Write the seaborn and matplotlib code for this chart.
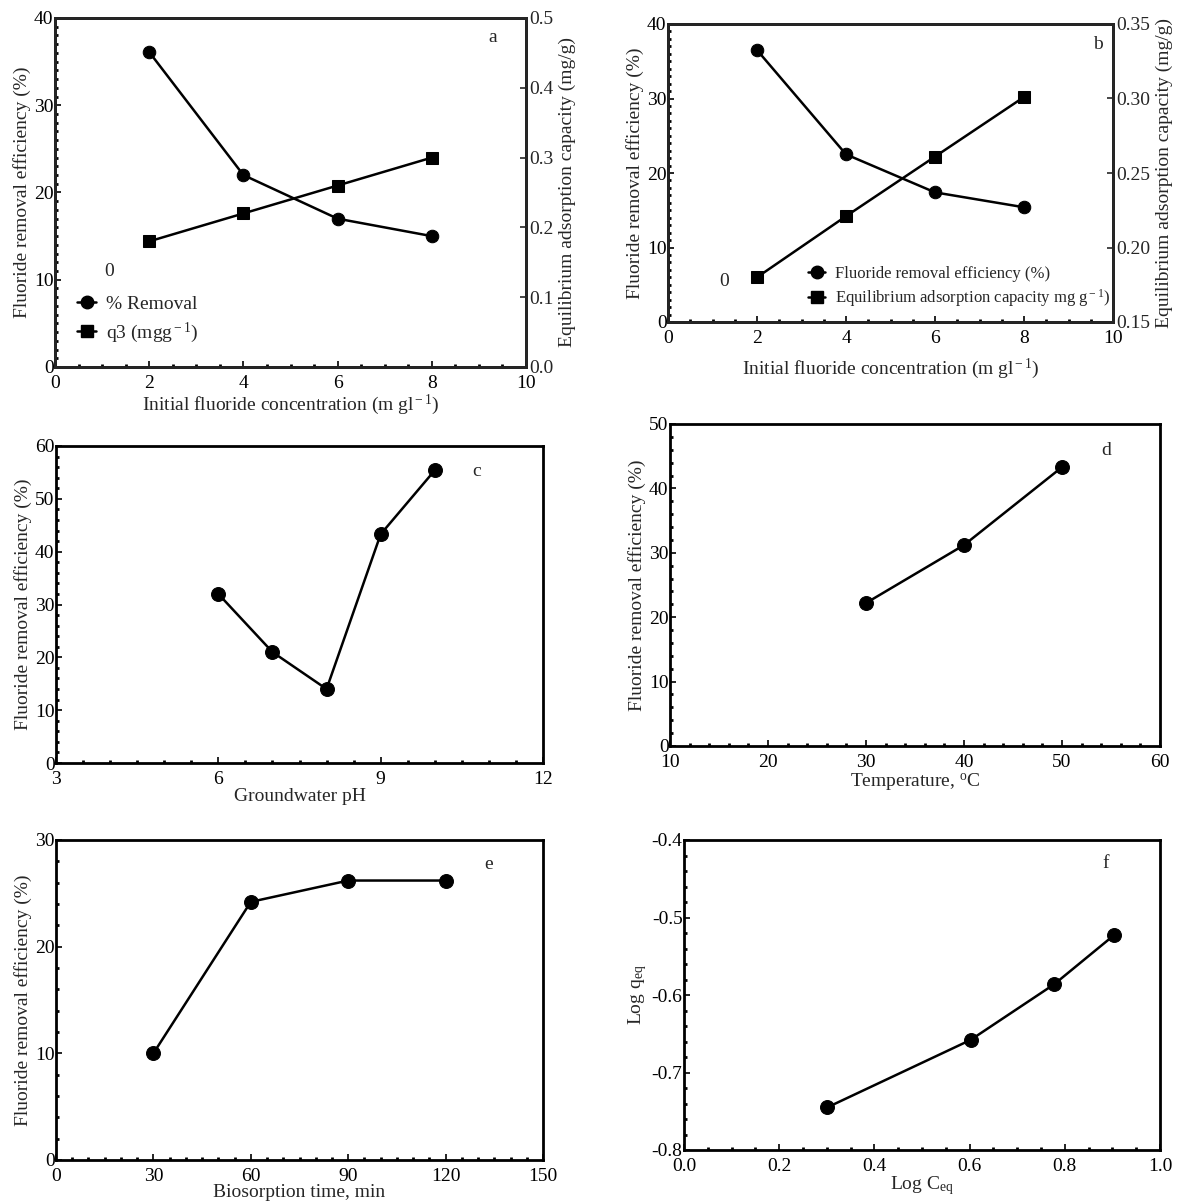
import matplotlib
matplotlib.use('Agg')
import matplotlib.pyplot as plt
import seaborn as sns
from matplotlib.lines import Line2D
from matplotlib.ticker import MultipleLocator, FormatStrFormatter

# panel a / b: initial fluoride concentration
conc = [2, 4, 6, 8]
removal_a = [36.1, 22.0, 17.0, 15.0]
q3_a = [0.18, 0.22, 0.26, 0.30]
removal_b = [36.5, 22.5, 17.4, 15.4]
q_b = [0.18, 0.221, 0.261, 0.301]

# panel c: pH
ph = [6, 7, 8, 9, 10]
removal_ph = [32, 21, 14, 43.3, 55.4]

# panel d: temperature
temp = [30, 40, 50]
removal_temp = [22.2, 31.2, 43.3]

# panel e: contact time
time_min = [30, 60, 90, 120]
removal_time = [10, 24.2, 26.2, 26.2]

# panel f: freundlich
log_ceq = [0.301, 0.602, 0.778, 0.903]
log_qeq = [-0.745, -0.658, -0.586, -0.523]

sns.set_style('ticks')
plt.rcParams['font.family'] = ['Liberation Serif', 'DejaVu Serif']
plt.rcParams['mathtext.fontset'] = 'custom'
plt.rcParams['mathtext.rm'] = 'Liberation Serif'
plt.rcParams['mathtext.it'] = 'Liberation Serif:italic'

W, H = 1184, 1202
fig = plt.figure(figsize=(W / 100, H / 100), dpi=100)

FS = 14
YLAB = 'Fluoride removal efficiency (%)'


def make_ax(left, top, right, bottom):
    return fig.add_axes([left / W, 1 - bottom / H, (right - left) / W, (bottom - top) / H])


def style(ax, xmaj, xmin, ymaj, ymin, right=False):
    for s in ax.spines.values():
        s.set_linewidth(2)
        s.set_color('black')
    ax.xaxis.set_major_locator(MultipleLocator(xmaj))
    ax.xaxis.set_minor_locator(MultipleLocator(xmin))
    ax.yaxis.set_major_locator(MultipleLocator(ymaj))
    ax.yaxis.set_minor_locator(MultipleLocator(ymin))
    ax.tick_params(which='both', direction='in', top=False, right=right,
                   labelsize=FS, colors='black')
    ax.tick_params(which='major', length=4, width=1.2)
    ax.tick_params(which='minor', length=2.5, width=2)
    ax.tick_params(axis='y', pad=1)
    ax.tick_params(axis='x', pad=6)


def line(ax, x, y, marker='o', ms=10):
    sns.lineplot(x=x, y=y, ax=ax, color='black', linewidth=1.8, marker=marker,
                 markersize=ms, markeredgecolor='black', markerfacecolor='black')


# ---- a ----
ax = make_ax(55, 18, 526, 367)
line(ax, conc, removal_a, 'o', 9)
ax.set_xlim(0, 10)
ax.set_ylim(0, 40)
style(ax, 2, 0.5, 10, 1)
ax.set_xlabel('Initial fluoride concentration (m gl$^{\\rm -1}$)', fontsize=FS, labelpad=0)
ax.set_ylabel(YLAB, fontsize=FS, labelpad=2)
ax.text(0.92, 0.93, 'a', transform=ax.transAxes, fontsize=FS)
ax.text(0.105, 0.26, '0', transform=ax.transAxes, fontsize=FS)
ax2 = ax.twinx()
line(ax2, conc, q3_a, 's', 9)
ax2.set_ylim(0, 0.5)
ax2.yaxis.set_major_locator(MultipleLocator(0.1))
ax2.yaxis.set_major_formatter(FormatStrFormatter('%.1f'))
ax2.tick_params(axis='y', direction='in', length=4, width=1.2, labelsize=FS, pad=2)
ax2.set_ylabel('Equilibrium adsorption capacity (mg/g)', fontsize=FS, labelpad=4)
for s in ax2.spines.values():
    s.set_linewidth(2)
handles = [Line2D([], [], color='black', marker='o', ms=9, lw=1.8),
           Line2D([], [], color='black', marker='s', ms=9, lw=1.8)]
ax.legend(handles, ['% Removal', 'q3 (mgg$^{\\rm -1}$)'], loc='lower left',
          bbox_to_anchor=(0.03, 0.04), frameon=False, fontsize=FS,
          handlelength=1.0, handletextpad=0.5, labelspacing=0.4, borderaxespad=0)

# ---- b ----
ax = make_ax(668, 24, 1113, 322)
line(ax, conc, removal_b, 'o', 9)
ax.set_xlim(0, 10)
ax.set_ylim(0, 40)
style(ax, 2, 0.5, 10, 1)
ax.set_xlabel('Initial fluoride concentration (m gl$^{\\rm -1}$)', fontsize=FS, labelpad=7)
ax.set_ylabel(YLAB, fontsize=FS, labelpad=2)
ax.text(0.955, 0.915, 'b', transform=ax.transAxes, fontsize=FS)
ax.text(0.115, 0.12, '0', transform=ax.transAxes, fontsize=FS)
ax2 = ax.twinx()
line(ax2, conc, q_b, 's', 9)
ax2.set_ylim(0.15, 0.35)
ax2.yaxis.set_major_locator(MultipleLocator(0.05))
ax2.yaxis.set_major_formatter(FormatStrFormatter('%.2f'))
ax2.tick_params(axis='y', direction='in', length=4, width=1.2, labelsize=FS, pad=2)
ax2.set_ylabel('Equilibrium adsorption capacity (mg/g)', fontsize=FS, labelpad=4)
for s in ax2.spines.values():
    s.set_linewidth(2)
ax.legend(handles, ['Fluoride removal efficiency (%)',
                    'Equilibrium adsorption capacity mg g$^{\\rm -1}$)'],
          loc='lower left', bbox_to_anchor=(0.3, 0.02), frameon=False, fontsize=12,
          handlelength=1.0, handletextpad=0.6, labelspacing=0.35, borderaxespad=0)

# ---- c ----
ax = make_ax(56, 446, 543, 763)
line(ax, ph, removal_ph)
ax.set_xlim(3, 12)
ax.set_ylim(0, 60)
style(ax, 3, 0.5, 10, 2)
ax.set_xlabel('Groundwater pH', fontsize=FS, labelpad=0)
ax.set_ylabel(YLAB, fontsize=FS, labelpad=2)
ax.text(0.855, 0.905, 'c', transform=ax.transAxes, fontsize=FS)

# ---- d ----
ax = make_ax(670, 424, 1160, 746)
line(ax, temp, removal_temp)
ax.set_xlim(10, 60)
ax.set_ylim(0, 50)
style(ax, 10, 2, 10, 2)
ax.set_xlabel('Temperature, $^{\\rm o}$C', fontsize=FS, labelpad=0)
ax.set_ylabel(YLAB, fontsize=FS, labelpad=2)
ax.text(0.88, 0.905, 'd', transform=ax.transAxes, fontsize=FS)

# ---- e ----
ax = make_ax(56, 840, 543, 1160)
line(ax, time_min, removal_time)
ax.set_xlim(0, 150)
ax.set_ylim(0, 30)
style(ax, 30, 5, 10, 2)
ax.set_xlabel('Biosorption time, min', fontsize=FS, labelpad=-1)
ax.set_ylabel(YLAB, fontsize=FS, labelpad=2)
ax.text(0.88, 0.91, 'e', transform=ax.transAxes, fontsize=FS)

# ---- f ----
ax = make_ax(684, 840, 1160, 1150)
line(ax, log_ceq, log_qeq)
ax.set_xlim(0, 1)
ax.set_ylim(-0.8, -0.4)
style(ax, 0.2, 0.05, 0.1, 0.02)
ax.xaxis.set_major_formatter(FormatStrFormatter('%.1f'))
ax.yaxis.set_major_formatter(FormatStrFormatter('%.1f'))
ax.set_xlabel('Log C$_{\\rm eq}$', fontsize=FS, labelpad=-1)
ax.set_ylabel('Log q$_{\\rm eq}$', fontsize=FS, labelpad=2)
ax.text(0.88, 0.91, 'f', transform=ax.transAxes, fontsize=FS)

fig.savefig('out.png', dpi=100)
